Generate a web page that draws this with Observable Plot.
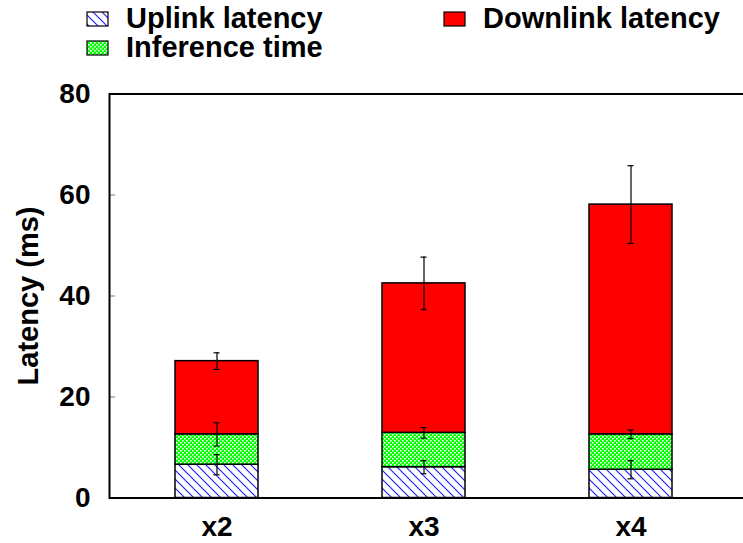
<!DOCTYPE html>
<html>
<head>
<meta charset="utf-8">
<script src="https://cdn.jsdelivr.net/npm/d3@7"></script>
<script src="https://cdn.jsdelivr.net/npm/@observablehq/plot@0.6"></script>
<style>
  html, body { margin: 0; padding: 0; background: #fff; }
  #wrap { width: 743px; height: 543px; position: relative; overflow: hidden; font-family: "Liberation Sans", Arial, sans-serif; }
  #legend { display: block; }
  #chart svg { display: block; }
</style>
</head>
<body>
<svg width="0" height="0" style="position:absolute">
  <defs>
    <pattern id="hatch" patternUnits="userSpaceOnUse" width="9" height="9">
      <rect width="9" height="9" fill="#ffffff"></rect>
      <path d="M0,0 L9,9 M-1,8 L1,10 M8,-1 L10,1" stroke="#1a1aff" stroke-width="1.1"></path>
    </pattern>
    <pattern id="check" patternUnits="userSpaceOnUse" width="4" height="4">
      <rect width="4" height="4" fill="#00ff00"></rect>
      <rect x="0" y="0" width="1.6" height="1.6" fill="#ffffff"></rect>
      <rect x="2" y="2" width="1.6" height="1.6" fill="#ffffff"></rect>
    </pattern>
  </defs>
</svg>
<div id="wrap">
  <svg id="legend" width="743" height="70"></svg>
  <div id="chart"></div>
</div>
<script>
// ---- data ----
const categories = ["x2", "x3", "x4"];
const seriesNames = ["Uplink latency", "Inference time", "Downlink latency"];
const uplink = [6.6, 6.1, 5.6];
const inference = [6.0, 6.8, 7.0];
const downlink = [14.5, 29.6, 45.5];
const uplinkErr = [2.0, 1.3, 1.8];
const inferenceErr = [2.3, 1.05, 0.85];
const downlinkErr = [1.65, 5.2, 7.7];
const yTicks = [0, 20, 40, 60, 80];
const yLabel = "Latency (ms)";

const fills = ["url(#hatch)", "url(#check)", "#ff0000"];
const FONT = "Liberation Sans, Arial, sans-serif";

// long table
const series = [uplink, inference, downlink];
const errs = [uplinkErr, inferenceErr, downlinkErr];
const rows = [];
const errRows = [];
categories.forEach((c, i) => {
  let cum = 0;
  series.forEach((s, k) => {
    rows.push({cat: c, series: seriesNames[k], value: s[i]});
    cum += s[i];
    errRows.push({cat: c, top: cum, err: errs[k][i]});
  });
});

const capInset = 38.5;

const plot = Plot.plot({
  width: 743,
  height: 473,
  marginTop: 23.5,
  marginBottom: 45.5,
  marginLeft: 109,
  marginRight: 0,
  style: {fontFamily: FONT, fontWeight: "bold", fontSize: "28px", color: "#000", background: "#fff"},
  x: {domain: categories, paddingInner: 0.6, paddingOuter: 0.331, align: 0.482, label: null},
  y: {domain: [0, 80], label: null},
  color: {domain: seriesNames, range: fills},
  marks: [
    Plot.barY(rows, {x: "cat", y: "value", fill: "series", stroke: "#000", strokeWidth: 1.5}),
    Plot.ruleX(errRows, {x: "cat", y1: d => d.top - d.err, y2: d => d.top + d.err, stroke: "#000", strokeWidth: 1.2}),
    Plot.tickY(errRows, {x: "cat", y: d => d.top - d.err, stroke: "#000", strokeWidth: 1.2, insetLeft: capInset, insetRight: capInset}),
    Plot.tickY(errRows, {x: "cat", y: d => d.top + d.err, stroke: "#000", strokeWidth: 1.2, insetLeft: capInset, insetRight: capInset}),
    Plot.tickY(yTicks, {y: d => d, stroke: "#777", strokeWidth: 1, insetRight: 743 - 109 - 6}),
    Plot.frame({stroke: "#000", strokeWidth: 2, insetRight: -6}),
    Plot.axisY({ticks: yTicks, tickSize: 0, tickPadding: 19, label: null, fontSize: 28, fontWeight: "bold"}),
    Plot.axisX({tickSize: 0, tickPadding: 18, label: null, fontSize: 28, fontWeight: "bold"}),
    Plot.text([yLabel], {text: d => d, frameAnchor: "left", textAnchor: "middle", rotate: -90, dx: -81, fontSize: 29, fontWeight: "bold"})
  ]
});
document.getElementById("chart").appendChild(plot);

// ---- legend (above the plot svg) ----
const legendItems = [
  {name: seriesNames[0], fill: fills[0], x: 87, y: 12},
  {name: seriesNames[2], fill: fills[2], x: 444, y: 12},
  {name: seriesNames[1], fill: fills[1], x: 87, y: 41}
];
const lg = d3.select("#legend");
const g = lg.selectAll("g").data(legendItems).join("g");
g.append("rect")
  .attr("x", d => d.x).attr("y", d => d.y)
  .attr("width", 21).attr("height", 14)
  .attr("fill", d => d.fill).attr("stroke", "#000").attr("stroke-width", 1.2);
g.append("text")
  .attr("x", d => d.x + 39).attr("y", d => d.y + 16)
  .attr("font-family", FONT).attr("font-weight", "bold").attr("font-size", 29)
  .text(d => d.name);
</script>
</body>
</html>
